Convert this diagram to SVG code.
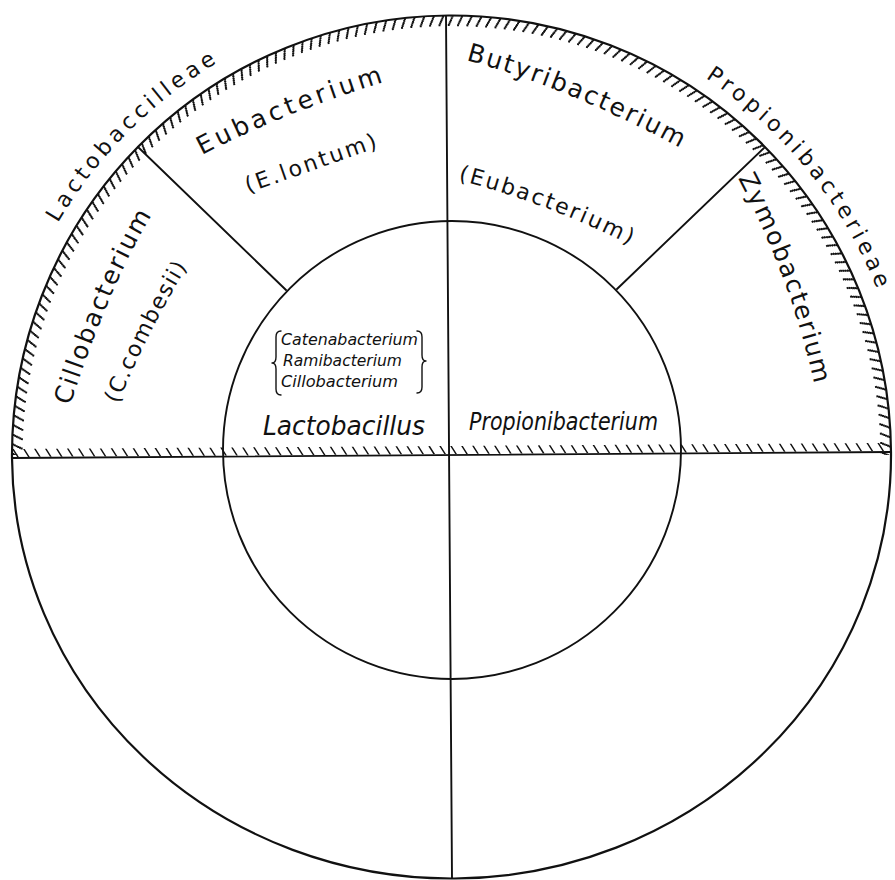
<svg xmlns="http://www.w3.org/2000/svg" xmlns:xlink="http://www.w3.org/1999/xlink" width="895" height="880" viewBox="0 0 895 880">
<style>
.ln{fill:none;stroke:#111;stroke-width:1.9;stroke-linecap:round}
.ol{fill:none;stroke:#111;stroke-width:2.2}
.ha{fill:none;stroke:#111;stroke-width:2;stroke-dasharray:2.6 9.9}
.hl{fill:none;stroke:#111;stroke-width:8;stroke-dasharray:1.7 9.3}
.t{font-family:"DejaVu Sans","Liberation Sans",sans-serif;fill:#111}
.big{font-size:25px}
.mid{font-size:22px}
.fam{font-size:22px}
.it{font-style:italic}
.br{fill:none;stroke:#111;stroke-width:1.4;stroke-linecap:round;stroke-linejoin:round}
</style>
<defs>
<path id="pL" d="M57.8,223.1 A457,457 0 0 1 219.6,61.3"/>
<path id="pP" d="M705.4,77.8 A456,456 0 0 1 877.3,289.4"/>
<path id="pEu" d="M202,155 Q285,112 390,80"/>
<path id="pEl" d="M248,193 L382,146"/>
<path id="pBu" d="M466,60 Q570,88 688,152"/>
<path id="pEu2" d="M458,180 Q548,203 636,248"/>
<path id="pCi" d="M70,406 Q110.6,281 155,210"/>
<path id="pCc" d="M118,404 Q148,330 190,262"/>
<path id="pZy" d="M738,178 Q793,283 815,388"/>
</defs>
<rect width="895" height="880" fill="#fff"/>
<g id="hatching">
<path class="ha" pathLength="1800" stroke-dashoffset="0" d="M13.1,455 A438.4,438.4 0 0 1 889.9,455"/>
<path class="ha" pathLength="1800" stroke-dashoffset="1" d="M14.8,455 A436.7,436.7 0 0 1 888.2,455"/>
<path class="ha" pathLength="1800" stroke-dashoffset="2" d="M16.5,455 A435,435 0 0 1 886.5,455"/>
<path class="ha" pathLength="1800" stroke-dashoffset="3" d="M18.2,455 A433.3,433.3 0 0 1 884.8,455"/>
<path class="ha" pathLength="1800" stroke-dashoffset="4" d="M19.9,455 A431.6,431.6 0 0 1 883.1,455"/>
<path class="ha" pathLength="1800" stroke-dashoffset="5" d="M21.6,455 A429.9,429.9 0 0 1 881.4,455"/>
<path class="hl" transform="translate(0,452) skewX(32) translate(0,-452)" d="M14,453 L889,447"/>
</g>
<g id="outline">
<path class="ol" d="M12,458 A439,439 0 0 1 891,452 A439,423 0 0 1 12,458 Z"/>
<circle class="ln" cx="452" cy="450" r="229"/>
</g>
<g id="connectors">
<path class="ln" d="M446,16 L452,878"/>
<path class="ln" d="M12,458 L891,452"/>
<path class="ln" d="M138,147 L286,290"/>
<path class="ln" d="M764,148 L617,289"/>
</g>
<g id="family-lactobaccilleae">
<text class="t fam"><textPath xlink:href="#pL" href="#pL" textLength="228" lengthAdjust="spacing">Lactobaccilleae</textPath></text>
</g>
<g id="family-propionibacterieae">
<text class="t fam"><textPath xlink:href="#pP" href="#pP" textLength="276" lengthAdjust="spacing">Propionibacterieae</textPath></text>
</g>
<g id="node-eubacterium">
<text class="t big"><textPath xlink:href="#pEu" href="#pEu" textLength="196" lengthAdjust="spacing">Eubacterium</textPath></text>
<text class="t mid"><textPath xlink:href="#pEl" href="#pEl" textLength="138" lengthAdjust="spacing">(E.lontum)</textPath></text>
</g>
<g id="node-butyribacterium">
<text class="t big"><textPath xlink:href="#pBu" href="#pBu" textLength="232" lengthAdjust="spacing">Butyribacterium</textPath></text>
<text class="t mid"><textPath xlink:href="#pEu2" href="#pEu2" textLength="184" lengthAdjust="spacing">(Eubacterium)</textPath></text>
</g>
<g id="node-cillobacterium">
<text class="t big"><textPath xlink:href="#pCi" href="#pCi" textLength="208" lengthAdjust="spacing">Cillobacterium</textPath></text>
<text class="t mid"><textPath xlink:href="#pCc" href="#pCc" textLength="154" lengthAdjust="spacing">(C.combesii)</textPath></text>
</g>
<g id="node-zymobacterium">
<text class="t big"><textPath xlink:href="#pZy" href="#pZy" textLength="220" lengthAdjust="spacing">Zymobacterium</textPath></text>
</g>
<g id="node-lactobacillus">
<path class="br" d="M281,331 Q276,331 276,337 L276,357 Q276,363 272,363 Q276,363 276,369 L276,389 Q276,395 281,395"/>
<path class="br" d="M417,331 Q422,331 422,337 L422,355 Q422,361 426,361 Q422,361 422,367 L422,387 Q422,393 417,393"/>
<text class="t it" font-size="16" x="281" y="345" textLength="137" lengthAdjust="spacingAndGlyphs">Catenabacterium</text>
<text class="t it" font-size="16" x="283" y="366" textLength="119" lengthAdjust="spacingAndGlyphs">Ramibacterium</text>
<text class="t it" font-size="16" x="281" y="387" textLength="117" lengthAdjust="spacingAndGlyphs">Cillobacterium</text>
<text class="t it" font-size="26" x="263" y="435" textLength="162" lengthAdjust="spacingAndGlyphs">Lactobacillus</text>
</g>
<g id="node-propionibacterium">
<text class="t it" font-size="25" x="469" y="430" textLength="189" lengthAdjust="spacingAndGlyphs">Propionibacterium</text>
</g>
</svg>
